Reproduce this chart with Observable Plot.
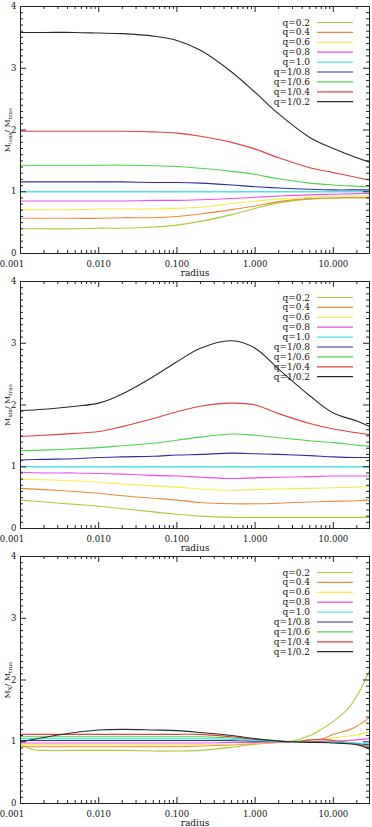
<!DOCTYPE html>
<html>
<head>
<meta charset="utf-8">
<script src="https://cdn.jsdelivr.net/npm/d3@7"></script>
<script src="https://cdn.jsdelivr.net/npm/@observablehq/plot@0.6"></script>
<style>
  body { margin: 0; background: #fff; }
  #chart svg { display: block; overflow: visible; }
</style>
</head>
<body>
<div id="chart"></div>
<script>
// Mass-ratio profiles versus radius for a set of axis ratios q.
const qLabels = ["q=0.2", "q=0.4", "q=0.6", "q=0.8", "q=1.0", "q=1/0.8", "q=1/0.6", "q=1/0.4", "q=1/0.2"];
const qColors = ["#aacb3a", "#e8893e", "#f2ee4c", "#ef4cef", "#4ce6e6", "#2e2eaa", "#4cd44c", "#e04040", "#2a2a2a"];

// Radii sampled for the lensing and kinematic panels
const radiusLK = [0.001, 0.002, 0.005, 0.01, 0.02, 0.05, 0.1, 0.2, 0.5, 1, 2, 5, 10, 20, 29];

// M_lens / M_true, one row per q (same order as qLabels)
const lensRatio = [
  [0.40, 0.40, 0.40, 0.41, 0.41, 0.43, 0.46, 0.52, 0.63, 0.73, 0.82, 0.88, 0.90, 0.90, 0.90],
  [0.57, 0.57, 0.57, 0.57, 0.58, 0.58, 0.60, 0.64, 0.71, 0.77, 0.84, 0.89, 0.90, 0.91, 0.91],
  [0.71, 0.71, 0.71, 0.72, 0.72, 0.72, 0.73, 0.75, 0.81, 0.85, 0.88, 0.91, 0.93, 0.93, 0.93],
  [0.85, 0.85, 0.85, 0.85, 0.85, 0.86, 0.86, 0.87, 0.89, 0.91, 0.93, 0.95, 0.96, 0.97, 0.97],
  [1.00, 1.00, 1.00, 1.00, 1.00, 1.00, 1.00, 1.00, 1.00, 1.00, 1.00, 1.00, 1.00, 1.00, 1.00],
  [1.16, 1.16, 1.16, 1.16, 1.16, 1.15, 1.15, 1.14, 1.11, 1.08, 1.06, 1.04, 1.03, 1.03, 1.03],
  [1.43, 1.43, 1.43, 1.43, 1.43, 1.42, 1.41, 1.38, 1.33, 1.28, 1.21, 1.14, 1.11, 1.09, 1.08],
  [1.98, 1.98, 1.98, 1.98, 1.98, 1.97, 1.95, 1.90, 1.80, 1.69, 1.55, 1.39, 1.31, 1.23, 1.19],
  [3.58, 3.58, 3.58, 3.57, 3.56, 3.52, 3.45, 3.29, 2.94, 2.61, 2.26, 1.88, 1.70, 1.55, 1.48]
];

// M_kin / M_true
const kinRatio = [
  [0.46, 0.43, 0.39, 0.36, 0.32, 0.27, 0.23, 0.20, 0.18, 0.18, 0.18, 0.18, 0.18, 0.18, 0.18],
  [0.65, 0.63, 0.60, 0.57, 0.53, 0.49, 0.46, 0.42, 0.40, 0.40, 0.41, 0.43, 0.44, 0.45, 0.46],
  [0.80, 0.79, 0.77, 0.75, 0.72, 0.69, 0.67, 0.64, 0.62, 0.63, 0.64, 0.65, 0.66, 0.67, 0.68],
  [0.91, 0.90, 0.90, 0.89, 0.88, 0.86, 0.85, 0.83, 0.81, 0.82, 0.83, 0.84, 0.85, 0.85, 0.85],
  [1.00, 1.00, 1.00, 1.00, 1.00, 1.00, 1.00, 1.00, 1.00, 1.00, 1.00, 1.00, 1.00, 1.00, 1.00],
  [1.11, 1.12, 1.13, 1.15, 1.16, 1.17, 1.19, 1.20, 1.22, 1.21, 1.20, 1.18, 1.16, 1.15, 1.15],
  [1.26, 1.27, 1.29, 1.31, 1.34, 1.38, 1.43, 1.48, 1.53, 1.51, 1.47, 1.42, 1.39, 1.35, 1.33],
  [1.49, 1.51, 1.54, 1.57, 1.65, 1.78, 1.89, 1.98, 2.03, 2.00, 1.86, 1.70, 1.61, 1.55, 1.52],
  [1.91, 1.93, 1.98, 2.03, 2.18, 2.46, 2.70, 2.92, 3.04, 2.92, 2.58, 2.15, 1.87, 1.74, 1.65]
];

// Radii sampled for the X-ray panel (denser where the curves cross and fan out)
const radiusX = [0.001, 0.0015, 0.002, 0.005, 0.01, 0.02, 0.05, 0.1, 0.2, 0.5, 1, 2, 3, 5, 7, 10, 15, 20, 29];

// M_X / M_true
const xrayRatio = [
  [0.96, 0.87, 0.86, 0.86, 0.86, 0.86, 0.85, 0.85, 0.86, 0.91, 0.96, 0.99, 1.01, 1.10, 1.20, 1.33, 1.52, 1.74, 2.15],
  [0.92, 0.92, 0.92, 0.92, 0.92, 0.92, 0.92, 0.92, 0.93, 0.95, 0.97, 0.99, 1.00, 1.02, 1.04, 1.12, 1.18, 1.25, 1.39],
  [0.95, 0.95, 0.95, 0.95, 0.95, 0.95, 0.95, 0.95, 0.95, 0.96, 0.98, 0.99, 1.00, 1.01, 1.03, 1.06, 1.09, 1.11, 1.16],
  [0.98, 0.98, 0.98, 0.98, 0.98, 0.98, 0.98, 0.98, 0.98, 0.99, 0.99, 1.00, 1.00, 1.00, 1.01, 1.01, 1.02, 1.03, 1.05],
  [1.05, 1.05, 1.05, 1.05, 1.05, 1.05, 1.05, 1.05, 1.05, 1.04, 1.02, 1.01, 1.00, 0.99, 0.99, 0.99, 0.99, 0.98, 0.97],
  [1.02, 1.02, 1.02, 1.02, 1.02, 1.02, 1.02, 1.02, 1.02, 1.02, 1.01, 1.00, 1.00, 0.99, 0.99, 0.99, 0.98, 0.97, 0.95],
  [1.08, 1.08, 1.08, 1.08, 1.08, 1.08, 1.08, 1.08, 1.08, 1.06, 1.03, 1.01, 1.00, 0.99, 0.99, 0.99, 0.98, 0.96, 0.93],
  [1.12, 1.12, 1.12, 1.12, 1.12, 1.12, 1.12, 1.12, 1.12, 1.08, 1.04, 1.01, 1.00, 1.03, 1.04, 1.02, 0.99, 0.96, 0.91],
  [1.00, 1.04, 1.07, 1.15, 1.19, 1.20, 1.19, 1.18, 1.15, 1.10, 1.05, 1.01, 1.00, 0.99, 0.99, 0.98, 0.97, 0.95, 0.88]
];

// Axis ticks
const xMajor = [0.001, 0.01, 0.1, 1, 10];
const xTickLabels = ["0.001", "0.010", "0.100", "1.000", "10.000"];
const yMajor = [0, 1, 2, 3, 4];
const yTickLabels = ["0", "1", "2", "3", "4"];

const xDomain = [0.001, 29];
const xMinor = [];
for (const d of xMajor) for (let k = 2; k <= 9; k++) { const v = d * k; if (v <= xDomain[1]) xMinor.push(v); }
const yMinor = d3.range(0, 41).map(i => i / 10).filter(v => !yMajor.includes(v));

const W = 372, ML = 20, MR = 3, MT = 6;
const FONT = "DejaVu Serif";

function tidy(radii, table) {
  const rows = [];
  table.forEach((series, i) => series.forEach((v, j) => rows.push({r: radii[j], v, q: qLabels[i]})));
  return rows;
}

// Legend drawn in the upper-right corner of the frame
function legendMark(index, scales, values, dims) {
  const g = d3.create("svg:g").attr("font-family", FONT).attr("font-size", 9);
  const right = dims.width - dims.marginRight;
  qLabels.forEach((label, i) => {
    const y = dims.marginTop + 16.5 + i * 9.9;
    g.append("text").attr("x", right - 59).attr("y", y).attr("dy", "0.34em")
      .attr("text-anchor", "end").attr("fill", "#111").text(label);
    g.append("line").attr("x1", right - 52).attr("x2", right - 16).attr("y1", y).attr("y2", y)
      .attr("stroke", scales.color(label)).attr("stroke-width", 1.2);
  });
  return g.node();
}

// Rotated y title "M_sub / M_true", built from rotated text pieces
const measureCtx = document.createElement("canvas").getContext("2d");
function textWidth(s, size) {
  measureCtx.font = `${size}px "${FONT}"`;
  return measureCtx.measureText(s).width;
}
function yTitleMarks(sub) {
  const pieces = [
    {t: "M", size: 8, lower: 0},
    {t: sub, size: 5.5, lower: 2},
    {t: "/ M", size: 8, lower: 0},
    {t: "true", size: 5.5, lower: 2}
  ];
  const total = d3.sum(pieces, p => textWidth(p.t, p.size));
  let offset = total / 2;
  return pieces.map(p => {
    const m = Plot.text([0], {
      text: [p.t], frameAnchor: "left", rotate: -90, textAnchor: "start", lineAnchor: "bottom",
      fontSize: p.size, dx: -11 + p.lower, dy: offset, fill: "#111"
    });
    offset -= textWidth(p.t, p.size);
    return m;
  });
}

function panel(radii, table, sub, height, marginBottom, cyanWidth) {
  const frameW = W - ML - MR;
  const frameH = height - MT - marginBottom;
  const rows = tidy(radii, table);
  const ink = "#222";
  const curve = "catmull-rom";
  return Plot.plot({
    width: W, height,
    marginLeft: ML, marginRight: MR, marginTop: MT, marginBottom,
    x: {type: "log", domain: xDomain, axis: null},
    y: {domain: [0, 4], axis: null},
    color: {domain: qLabels, range: qColors},
    style: {fontFamily: FONT, fontSize: "9px", color: "#111", overflow: "visible"},
    marks: [
      Plot.line(rows.filter(d => d.q !== "q=1.0" && d.q !== "q=1/0.2"), {x: "r", y: "v", z: "q", stroke: "q", strokeWidth: 1.1, curve}),
      Plot.line(rows.filter(d => d.q === "q=1.0"), {x: "r", y: "v", stroke: "q", strokeWidth: cyanWidth, curve}),
      Plot.line(rows.filter(d => d.q === "q=1/0.2"), {x: "r", y: "v", stroke: "q", strokeWidth: 1.1, curve}),
      Plot.frame({stroke: ink, strokeWidth: 1}),
      // inward ticks on all four sides
      Plot.ruleX(xMinor, {x: d => d, insetTop: frameH - 3, stroke: ink}),
      Plot.ruleX(xMajor, {x: d => d, insetTop: frameH - 6, stroke: ink}),
      Plot.ruleX(xMinor, {x: d => d, insetBottom: frameH - 3, stroke: ink}),
      Plot.ruleX(xMajor, {x: d => d, insetBottom: frameH - 6, stroke: ink}),
      Plot.ruleY(yMinor, {y: d => d, insetRight: frameW - 3, stroke: ink}),
      Plot.ruleY(yMajor, {y: d => d, insetRight: frameW - 6, stroke: ink}),
      Plot.ruleY(yMinor, {y: d => d, insetLeft: frameW - 3, stroke: ink}),
      Plot.ruleY(yMajor, {y: d => d, insetLeft: frameW - 6, stroke: ink}),
      // tick labels
      Plot.text(xMajor.slice(0, 1), {x: d => d, text: xTickLabels.slice(0, 1), frameAnchor: "bottom", lineAnchor: "top", dy: 7, dx: -8.5, fontSize: 8.5}),
      Plot.text(xMajor.slice(1), {x: d => d, text: xTickLabels.slice(1), frameAnchor: "bottom", lineAnchor: "top", dy: 7, fontSize: 8.5}),
      Plot.text(yMajor, {y: d => d, text: yTickLabels, frameAnchor: "left", textAnchor: "end", dx: -4, fontSize: 8.5}),
      Plot.text([0], {text: ["radius"], frameAnchor: "bottom", lineAnchor: "top", dy: 16}),
      ...yTitleMarks(sub),
      legendMark
    ]
  });
}

const chart = document.getElementById("chart");
chart.append(panel(radiusLK, lensRatio, "lens", 275, 22, 1.7));
chart.append(panel(radiusLK, kinRatio, "kin", 275, 22, 1.7));
chart.append(panel(radiusX, xrayRatio, "X", 277, 24, 1.2));
</script>
</body>
</html>
